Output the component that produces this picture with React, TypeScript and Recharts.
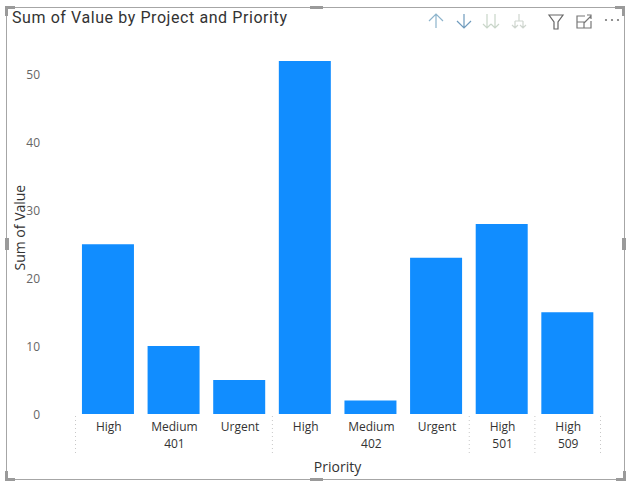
import { BarChart, Bar, XAxis, YAxis } from 'recharts'

const priorities = ['High', 'Medium', 'Urgent', 'High', 'Medium', 'Urgent', 'High', 'High']
const projects = ['401', '401', '401', '402', '402', '402', '501', '509']
const values = [25, 10, 5, 52, 2, 23, 28, 15]
const yTicks = [0, 10, 20, 30, 40, 50]

const data = priorities.map((priority, i) => ({
  key: i,
  priority,
  project: projects[i],
  value: values[i],
}))

const labelFont = '"Open Sans", "Noto Sans", sans-serif'
const titleFont = 'Roboto, "Noto Sans", sans-serif'

const PriorityTick = ({ x, y, payload }: any) => {
  const i = payload.value
  const band = 65.6
  const project = projects[i]
  const members = projects.map((p, k) => (p === project ? k : -1)).filter((k) => k >= 0)
  const middle = members[Math.floor(members.length / 2)]
  const startsGroup = members[0] === i
  const isLast = i === projects.length - 1
  const sep = (sx: number) => (
    <line x1={sx + 0.5} x2={sx + 0.5} y1={416} y2={455} stroke="#c8c8c8" strokeDasharray="1 3" />
  )
  return (
    <g>
      {startsGroup && sep(x - band / 2)}
      {isLast && sep(x + band / 2)}
      <text x={x + 1} y={431} textAnchor="middle" fontSize={12} fontFamily={labelFont} fill="#333">
        {priorities[i]}
      </text>
      {middle === i && (
        <text x={x + 1} y={448} textAnchor="middle" fontSize={12} fontFamily={labelFont} fill="#333">
          {project}
        </text>
      )}
    </g>
  )
}

const Icons = () => (
  <svg width={633} height={40} style={{ position: 'absolute', left: 0, top: 0 }} fill="none" strokeWidth={1.2}>
    <path d="M436 28V14M429 21l7-7 7 7" stroke="#8db4cc" />
    <path d="M464 14V28M457 21l7 7 7-7" stroke="#6f9bbd" />
    <path d="M487 14V28M483 24l4 4 4-4M495 14V28M491 24l4 4 4-4" stroke="#c9d6c9" />
    <path d="M519 14V21M515 21h8M515 21V28M523 21V28M512 25l3 3 3-3M520 25l3 3 3-3" stroke="#cfd6cf" />
    <path d="M549 15h14l-5 7v7h-4v-7z" stroke="#666" />
    <path d="M585 16h-8v12h14v-7M577 22h7v6M584 23l7-7M587 15h4v4" stroke="#777" />
    <circle cx={606} cy={20} r={1.1} fill="#777" stroke="none" />
    <circle cx={612} cy={20} r={1.1} fill="#777" stroke="none" />
    <circle cx={618} cy={20} r={1.1} fill="#777" stroke="none" />
  </svg>
)

const handle = (left: number, top: number, width: number, height: number) => (
  <div style={{ position: 'absolute', left, top, width, height, background: '#9a9a9a' }} />
)

const Frame = () => (
  <>
    <div
      style={{
        position: 'absolute',
        left: 6,
        top: 7,
        width: 619,
        height: 473,
        border: '1px solid #a6a6a6',
        boxSizing: 'border-box',
      }}
    />
    {handle(5, 6, 10, 3)}
    {handle(5, 6, 3, 10)}
    {handle(615, 6, 10, 3)}
    {handle(622, 6, 3, 10)}
    {handle(5, 478, 10, 3)}
    {handle(5, 471, 3, 10)}
    {handle(616, 478, 10, 3)}
    {handle(623, 471, 3, 10)}
    {handle(310, 6, 13, 3)}
    {handle(310, 478, 13, 3)}
    {handle(5, 238, 4, 12)}
    {handle(622, 238, 4, 12)}
  </>
)

export default function App() {
  return (
    <div style={{ position: 'absolute', left: 0, top: 0, width: 633, height: 488, background: '#fff' }}>
      <BarChart
        width={633}
        height={488}
        data={data}
        margin={{ top: 61, right: 33, bottom: 0, left: 0 }}
        barCategoryGap="10.6%"
      >
        <XAxis
          dataKey="key"
          height={74}
          axisLine={false}
          tickLine={false}
          interval={0}
          tick={<PriorityTick />}
          label={{
            value: 'Priority',
            position: 'insideBottom',
            offset: 16,
            fontSize: 14,
            fontFamily: labelFont,
            fill: '#333',
          }}
        />
        <YAxis
          width={75}
          domain={[0, 52]}
          ticks={yTicks}
          axisLine={false}
          tickLine={false}
          tickMargin={29}
          tick={{ fontSize: 12, fontFamily: labelFont, fill: '#666', dy: 0.5 }}
          label={{
            value: 'Sum of Value',
            angle: -90,
            position: 'insideLeft',
            offset: 20,
            dy: 33,
            fontSize: 14,
            fontFamily: labelFont,
            fill: '#333',
          }}
        />
        <Bar dataKey="value" fill="#118DFF" isAnimationActive={false} />
      </BarChart>
      <div
        style={{
          position: 'absolute',
          left: 12,
          top: 8,
          fontFamily: titleFont,
          fontSize: 16,
          letterSpacing: 0.58,
          color: '#333',
          whiteSpace: 'nowrap',
        }}
      >
        Sum of Value by Project and Priority
      </div>
      <Icons />
      <Frame />
    </div>
  )
}
